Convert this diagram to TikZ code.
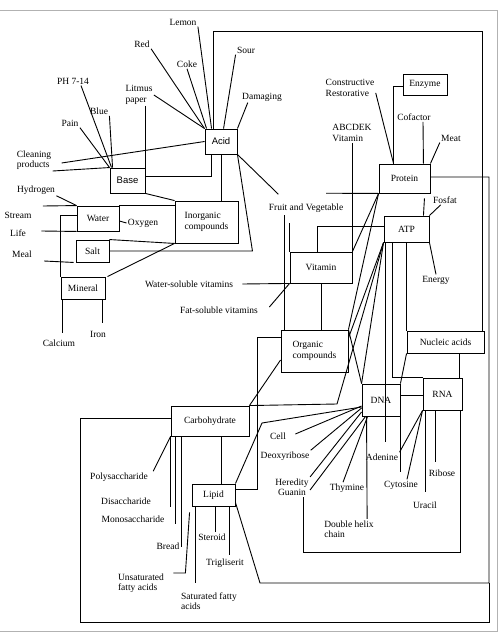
\documentclass[tikz,border=0pt]{standalone}
\usepackage{fontspec}
\setmainfont{Liberation Serif}
\newfontfamily\arialfont{Liberation Sans}
\usetikzlibrary{positioning}

\begin{document}
\begin{tikzpicture}[x=1pt, y=-1pt, line width=0.9pt,
    box/.style={draw, inner sep=1pt, font=\fontsize{9.5}{10.5}\selectfont},
    lbl/.style={inner sep=1pt, align=center, font=\fontsize{9.5}{10.5}\selectfont},
    frame/.style={draw=gray!60, line width=0.9pt}
  ]
  \useasboundingbox (0,0) rectangle (500,637);
  \draw[frame] (0,10) -- (497,10) -- (497,631) -- (0,631);

  % boxes
  \node[box, minimum width=32pt, minimum height=25pt] (acid) at (221,141.5) {\arialfont Acid};
  \node[box, minimum width=35pt, minimum height=25pt] (base) at (127.5,180.5) {\arialfont Base};
  \node[box, minimum width=42pt, minimum height=25pt] (water) at (98,218.5) {Water};
  \node[box, minimum width=63pt, minimum height=42pt, align=left] (inorg) at (206.5,222) {Inorganic\\compounds};
  \node[box, minimum width=33pt, minimum height=22pt] (salt) at (92.5,251) {Salt};
  \node[box, minimum width=44pt, minimum height=22pt] (mineral) at (83,288) {Mineral};
  \node[box, minimum width=62pt, minimum height=31pt] (vitamin) at (321,267.5) {Vitamin};
  \node[box, minimum width=67pt, minimum height=42pt, align=left] (organic) at (314.5,351) {Organic\\compounds};
  \node[box, minimum width=51pt, minimum height=29pt] (protein) at (404.5,178.5) {Protein};
  \node[box, minimum width=44pt, minimum height=21pt] (enzyme) at (425,84.5) {Enzyme};
  \node[box, minimum width=45pt, minimum height=26pt] (atp) at (406.5,229) {ATP};
  \node[box, minimum width=77pt, minimum height=22pt] (nucleic) at (445.5,342) {Nucleic acids};
  \node[box, minimum width=39pt, minimum height=32pt] (rna) at (442.5,394) {RNA};
  \node[box, minimum width=38pt, minimum height=32pt] (dna) at (381,400) {DNA};
  \node[box, minimum width=78pt, minimum height=30pt] (carbo) at (210,421) {Carbohydrate};
  \node[box, minimum width=43pt, minimum height=22pt] (lipid) at (213.5,495) {Lipid};

  % labels
  \node[lbl] (lemon) at (183,22) {Lemon};
  \node[lbl] (red) at (142,44) {Red};
  \node[lbl] (coke) at (187,64) {Coke};
  \node[lbl] (sour) at (246,50) {Sour};
  \node[lbl] (damaging) at (262,97) {Damaging};
  \node[lbl] (ph) at (73,81) {PH 7-14};
  \node[lbl] (blue) at (99,111) {Blue};
  \node[lbl] (pain) at (70,123) {Pain};
  \node[lbl, align=left] (litmus) at (139,95) {Litmus\\paper};
  \node[lbl, align=left] (cleaning) at (34,160) {Cleaning\\products};
  \node[lbl] (hydrogen) at (36,190) {Hydrogen};
  \node[lbl] (stream) at (18,215) {Stream};
  \node[lbl] (life) at (18,233) {Life};
  \node[lbl] (meal) at (22,254) {Meal};
  \node[lbl] (oxygen) at (143,223) {Oxygen};
  \node[lbl] (calcium) at (59,343) {Calcium};
  \node[lbl] (iron) at (98,334) {Iron};
  \node[lbl] (wsv) at (189,284) {Water-soluble vitamins};
  \node[lbl] (fsv) at (219,310) {Fat-soluble vitamins};
  \node[lbl] (fruit) at (306,208) {Fruit and Vegetable};
  \node[lbl, align=left] (abcdek) at (352,133) {ABCDEK\\Vitamin};
  \node[lbl, align=left] (constr) at (350,88) {Constructive\\Restorative};
  \node[lbl] (cofactor) at (414,117) {Cofactor};
  \node[lbl] (meat) at (451,138) {Meat};
  \node[lbl] (fosfat) at (445,200) {Fosfat};
  \node[lbl] (energy) at (436,280) {Energy};
  \node[lbl] (cell) at (278,436) {Cell};
  \node[lbl] (deoxy) at (285,456) {Deoxyribose};
  \node[lbl] (heredity) at (292,487) {Heredity\\Guanin};
  \node[lbl] (thymine) at (347,488) {Thymine};
  \node[lbl] (adenine) at (382,457) {Adenine};
  \node[lbl] (cytosine) at (401,485) {Cytosine};
  \node[lbl] (ribose) at (442,473) {Ribose};
  \node[lbl] (uracil) at (425,505) {Uracil};
  \node[lbl, align=left] (helix) at (349,529) {Double helix\\chain};
  \node[lbl] (poly) at (119,477) {Polysaccharide};
  \node[lbl] (disac) at (126,501) {Disaccharide};
  \node[lbl] (monosac) at (133,519) {Monosaccharide};
  \node[lbl] (bread) at (168,546) {Bread};
  \node[lbl] (steroid) at (212,537) {Steroid};
  \node[lbl] (trig) at (225,563) {Trigliserit};
  \node[lbl, align=left] (unsat) at (141,583) {Unsaturated\\fatty acids};
  \node[lbl, align=left] (sat) at (209,601) {Saturated fatty\\acids};

  % acid
  \draw (lemon.south east) -- ([xshift=7pt]acid.north west);
  \draw (red.south east) -- (acid.north west);
  \draw (coke.south) -- ([xshift=2pt]acid.north west);
  \draw (litmus.east) -- (acid.north west);
  \draw (sour.south west) -- ([xshift=19pt]acid.north west);
  \draw ([xshift=7pt]damaging.south west) -- (acid.north east);
  \draw ([xshift=9pt,yshift=-3pt]cleaning.east) -- (acid.west);
  \draw (acid.south east) -- ([xshift=11pt,yshift=8pt]fruit.north west);
  \draw ([xshift=9pt]acid.north west) -- ++(0,-97) -| ([xshift=-2pt]nucleic.north east);
  \draw (acid.south) -- (acid.south |- inorg.north);
  \draw (salt.east) -- ++(143,0) -- (acid.south east);

  % base
  \draw (cleaning.south east) -- (base.north west);
  \draw (pain.south east) -- (base.north west);
  \draw ([xshift=8pt]ph.south) -- ([xshift=2pt]base.north west);
  \draw (blue.south east) -- ([xshift=3pt]base.north west);
  \draw (litmus.south -| base.north east) -- (base.north east);
  \draw ([yshift=4.5pt]base.east) -| ([xshift=7pt]acid.south west);
  \draw (base.south east) -- (inorg.north west);

  % water, salt, mineral
  \draw (hydrogen.south east) -- (water.north west);
  \draw ([xshift=10pt,yshift=9pt]stream.east) -- (water.north west);
  \draw (water.north east) -- (water.north east -| inorg.west);
  \draw (mineral.north west) |- ([yshift=3.5pt]water.west);
  \draw ([xshift=14pt,yshift=2pt]life.east) -- (water.south west);
  \draw ([yshift=-2.5pt]water.east) -- (oxygen.west);
  \draw (salt.north east) -- (inorg.south west);
  \draw ([xshift=11pt,yshift=-7pt]meal.east) -- ([xshift=-2pt]salt.south west);
  \draw ([xshift=2pt]mineral.north east) -- (inorg.south west);
  \draw ([xshift=2pt]mineral.south west) -- ++(0,34);
  \draw ([xshift=-3pt]mineral.south east) -- ++(0,24);

  % vitamin
  \draw ([xshift=8pt]wsv.east) -- (vitamin.south west);
  \draw ([xshift=10pt,yshift=3pt]fsv.east) -- (vitamin.south west);
  \draw (vitamin.north west) -- ++(0,-29);
  \draw ([xshift=4pt]organic.north west) -- ++(0,-115);
  \draw ([xshift=20pt,yshift=9pt]fruit.north) -- (protein.south west);
  \draw ([yshift=3pt]atp.west) -| ([xshift=-4pt]vitamin.north);
  \draw (protein.south west) -- (vitamin.north east);
  \draw (abcdek.south -| vitamin.north east) -- (vitamin.north east);
  \draw (vitamin.south) -- (vitamin.south |- organic.north);

  % protein
  \draw ([yshift=5pt]constr.south east) -- ([xshift=15pt]protein.north west);
  \draw ([xshift=15pt]protein.north west) |- ([yshift=-1.5pt]enzyme.west);
  \draw ([xshift=9pt]cofactor.south) -- ([xshift=-7pt]protein.north east);
  \draw (meat.south west) -- (protein.north east);
  \draw ([xshift=-6pt,yshift=-5pt]protein.south east) -- ([xshift=-6pt]atp.north east);
  \draw ([xshift=9pt]fosfat.south west) -- (atp.north east);
  \draw (atp.south east) -- (energy.north);
  \draw ([yshift=1.5pt]protein.east) -| (489,583) -- (260,583) -- ([yshift=4pt]lipid.south east);
  \draw ([yshift=3pt]carbo.west) -- ++(-90,0) |- (489,622) -- (489,583);

  % nucleic acids
  \draw ([xshift=2pt]atp.south west) -- ++(0,200);
  \draw ([xshift=9pt]atp.south west) |- (rna.north west);
  \draw (atp.south -| nucleic.north west) -- (nucleic.north west);
  \draw ([xshift=-3pt]rna.north east) -- ++(0,-25);
  \draw (nucleic.south west) -- (dna.north east);
  \draw ([yshift=5pt]dna.east) -- ([yshift=-1pt]rna.west);
  \draw (dna.south east) -- ++(0,56);
  \draw (rna.south west) -- (adenine.north east);
  \draw (rna.south west) -- ([xshift=6pt]cytosine.north);
  \draw ([xshift=3pt]rna.south west) -- ++(0,82);
  \draw ([xshift=13pt]rna.south west) -- ++(0,52);
  \draw ([xshift=-2pt]rna.south east) -- ++(0,142) -| ([xshift=11pt]heredity.south);
  \draw ([xshift=8pt,yshift=2pt]cell.east) -- ([yshift=-6pt]dna.west);
  \draw (deoxy.north east) -- ([yshift=-8pt]dna.west);
  \draw (heredity.north east) -- ([yshift=-12pt]dna.west);
  \draw ([yshift=-3pt]heredity.east) -- ([xshift=4pt]dna.south west);
  \draw ([xshift=-4pt]thymine.north) -- ([xshift=6pt]dna.south west);
  \draw ([xshift=-8pt]helix.north east) -- ([xshift=5pt]dna.south west);

  % organic compounds
  \draw (organic.north east) -- (dna.north west);
  \draw (protein.south west) -- (organic.north east);
  \draw (atp.south west) -- ([yshift=13pt]organic.east);
  \draw (atp.south west) -- (337,404) -- (carbo.north east);
  \draw (atp.south west) -- (dna.north west);
  \draw ([yshift=14pt]organic.west) -- ++(-23,0) |- ([yshift=6pt]lipid.east);
  \draw ([yshift=-9pt]organic.west) -- (carbo.north east);
  \draw (lipid.north east) -- (262,423) -- ([yshift=-7pt]dna.west);

  % carbohydrate, lipid
  \draw ([xshift=11pt]carbo.south) -- ([xshift=7.5pt]lipid.north);
  \draw (carbo.south west) -- ([xshift=4pt]poly.north east);
  \draw (carbo.south west) -- ++(0,71);
  \draw ([xshift=5pt]carbo.south west) -- ++(0,88);
  \draw ([xshift=11pt]carbo.south west) |- (bread.east);
  \draw ([xshift=8pt,yshift=10pt]unsat.east) -- ++(12,0) -- ([xshift=-2pt,yshift=-6pt]lipid.south west);
  \draw ([xshift=4pt]lipid.south west) -- ++(0,77);
  \draw ([xshift=1.5pt]lipid.south) -- ++(0,26);
  \draw ([xshift=-6pt]lipid.south east) -- ++(0,49);
\end{tikzpicture}
\end{document}
